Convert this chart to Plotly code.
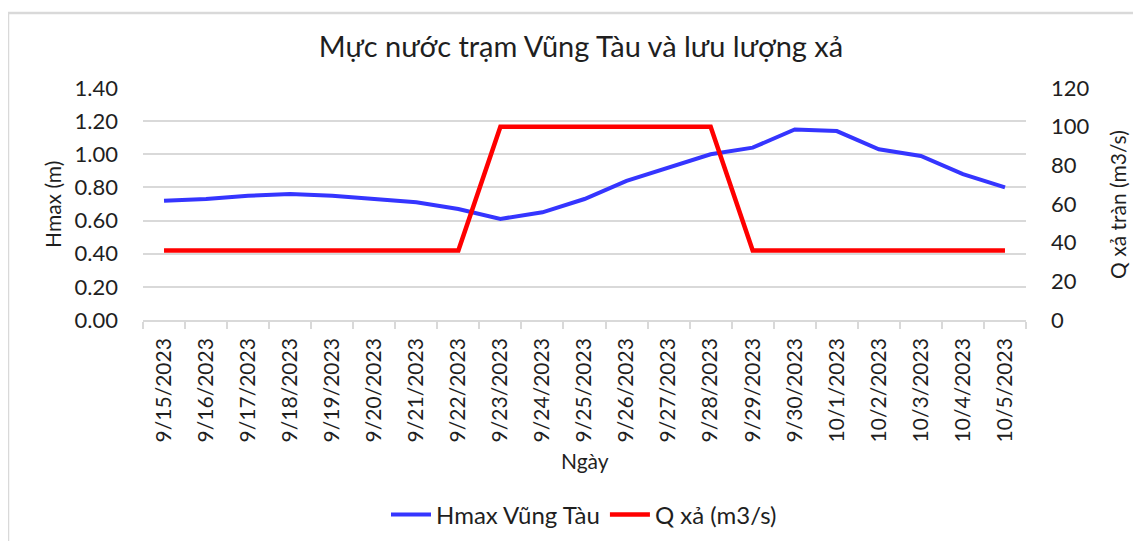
import plotly.graph_objects as go

dates = ["9/15/2023", "9/16/2023", "9/17/2023", "9/18/2023", "9/19/2023", "9/20/2023",
         "9/21/2023", "9/22/2023", "9/23/2023", "9/24/2023", "9/25/2023", "9/26/2023",
         "9/27/2023", "9/28/2023", "9/29/2023", "9/30/2023", "10/1/2023", "10/2/2023",
         "10/3/2023", "10/4/2023", "10/5/2023"]
hmax = [0.72, 0.73, 0.75, 0.76, 0.75, 0.73, 0.71, 0.67, 0.61, 0.65, 0.73, 0.84,
        0.92, 1.00, 1.04, 1.15, 1.14, 1.03, 0.99, 0.88, 0.80]
q_xa = [36, 36, 36, 36, 36, 36, 36, 36, 100, 100, 100, 100, 100, 100,
        36, 36, 36, 36, 36, 36, 36]
y1_ticks = [0, 0.2, 0.4, 0.6, 0.8, 1.0, 1.2, 1.4]
y1_labels = ["0.00", "0.20", "0.40", "0.60", "0.80", "1.00", "1.20", "1.40"]
y2_ticks = [0, 20, 40, 60, 80, 100, 120]

FONT = "Lato"
TXT = "#1f1f1f"
GRID = "#D9D9D9"

OFF = 8  # page body margin
W, H = 1141 - OFF, 541 - OFF
# plot area in page pixel coordinates
L, R, T, B = 143, 1026, 88, 320

def px(x):
    return (x - L) / (R - L)

def py(y):
    return (B - y) / (B - T)

fig = go.Figure()
fig.add_trace(go.Scatter(x=dates, y=hmax, name="Hmax Vũng Tàu", mode="lines",
                         line=dict(color="#3535FF", width=4), yaxis="y"))
fig.add_trace(go.Scatter(x=dates, y=q_xa, name="Q xả (m3/s)", mode="lines",
                         line=dict(color="#FF0000", width=4.5), yaxis="y2"))

fig.update_layout(
    width=W, height=H,
    margin=dict(l=L - OFF, r=W - (R - OFF), t=T - OFF, b=H - (B - OFF), autoexpand=False),
    paper_bgcolor="white", plot_bgcolor="white",
    font=dict(family=FONT, color=TXT, size=22),
    title=dict(text="Mực nước trạm Vũng Tàu và lưu lượng xả", x=px(581), xref="paper",
               xanchor="center", y=1 - (47 - OFF) / H, yanchor="middle",
               font=dict(family=FONT, size=29, color=TXT)),
    xaxis=dict(type="category", range=[-0.5, 20.5], tickangle=-90,
               showline=True, linecolor=GRID, linewidth=1.5,
               ticks="outside", ticklen=7, tickcolor=GRID, tickwidth=1.5,
               tickson="boundaries", showgrid=False,
               tickfont=dict(size=21, color=TXT), ticklabelstandoff=8),
    yaxis=dict(range=[0, 1.4], tickvals=y1_ticks, ticktext=y1_labels,
               showgrid=True, gridcolor=GRID, gridwidth=1.5, zeroline=False,
               showline=False, ticks="", ticklabelstandoff=24,
               tickfont=dict(size=22, color=TXT)),
    yaxis2=dict(range=[0, 120], tickvals=y2_ticks, overlaying="y", side="right",
                showgrid=False, zeroline=False, showline=False, ticks="",
                ticklabelstandoff=24, tickfont=dict(size=22, color=TXT)),
    legend=dict(orientation="h", x=px(584), xanchor="center", y=py(515), yanchor="middle",
                font=dict(size=24, color=TXT), itemwidth=40, bgcolor="rgba(0,0,0,0)"),
    showlegend=True,
)

fig.add_annotation(text="Hmax (m)", x=px(52), y=py(205), xref="paper", yref="paper",
                   xanchor="center", yanchor="middle",
                   textangle=-90, showarrow=False, font=dict(size=21, color=TXT))
fig.add_annotation(text="Q xả tràn (m3/s)", x=px(1117), y=py(205), xref="paper", yref="paper",
                   xanchor="center", yanchor="middle",
                   textangle=-90, showarrow=False, font=dict(size=21, color=TXT))
fig.add_annotation(text="Ngày", x=px(585), y=py(460), xref="paper", yref="paper",
                   xanchor="center", yanchor="middle",
                   showarrow=False, font=dict(size=21, color=TXT))

# outer chart frame (top and left edges visible)
fig.add_shape(type="line", xref="paper", yref="paper", x0=px(8), x1=px(1145), y0=py(13), y1=py(13),
              line=dict(color=GRID, width=2.5))
fig.add_shape(type="line", xref="paper", yref="paper", x0=px(8), x1=px(8), y0=py(13), y1=py(545),
              line=dict(color=GRID, width=2.5))

fig.write_html("out.html")
